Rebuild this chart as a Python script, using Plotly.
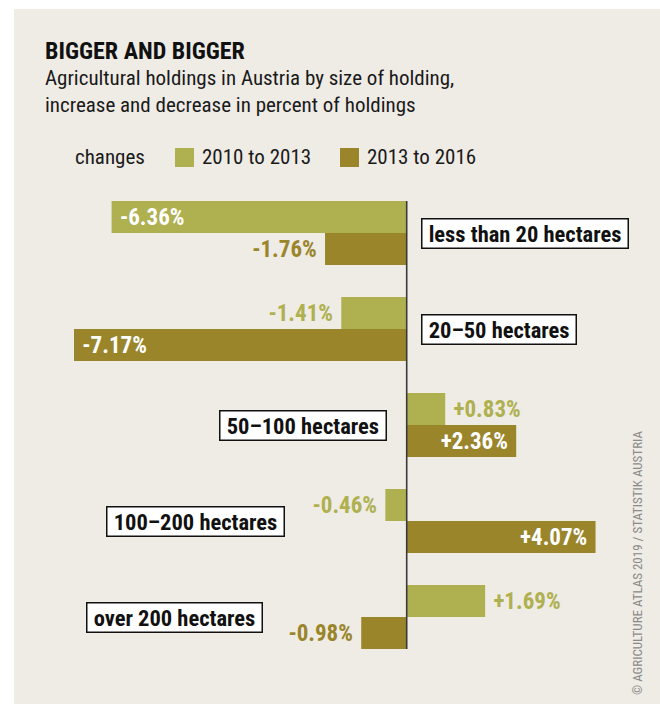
"""Bigger and bigger: change in Austrian agricultural holdings by size class."""

import plotly.graph_objects as go

# Data
SIZE_CLASSES = [
    "less than 20 hectares",
    "20–50 hectares",
    "50–100 hectares",
    "100–200 hectares",
    "over 200 hectares",
]
CHANGE_2010_2013 = [-6.36, -1.41, 0.83, -0.46, 1.69]
CHANGE_2013_2016 = [-1.76, -7.17, 2.36, 4.07, -0.98]
SERIES_NAMES = ["2010 to 2013", "2013 to 2016"]

# Styling
BG = "#efebe5"
LIGHT = "#afb050"
DARK = "#9a852b"
FONT = "Liberation Sans Narrow, Roboto Condensed, Arial Narrow, Liberation Sans, sans-serif"
NBSP = "\u00a0"

W, H = 660, 704
PLOT_L, PLOT_R, PLOT_T, PLOT_B = 60, 640, 185, 665


def px_x(px):
    return (px - PLOT_L) / (PLOT_R - PLOT_L)


def px_y(py):
    return (PLOT_B - py) / (PLOT_B - PLOT_T)


def labels(values, threshold=2.0):
    texts, positions = [], []
    for v in values:
        inside = abs(v) > threshold
        s = f"{v:+.2f}%"
        if v < 0:
            s = NBSP + s if inside else s + NBSP
        else:
            s = s + NBSP if inside else NBSP + s
        texts.append(s)
        positions.append("inside" if inside else "outside")
    return texts, positions


fig = go.Figure()
for name, vals, color in [
    (SERIES_NAMES[0], CHANGE_2010_2013, LIGHT),
    (SERIES_NAMES[1], CHANGE_2013_2016, DARK),
]:
    txt, pos = labels(vals)
    fig.add_trace(
        go.Bar(
            y=SIZE_CLASSES,
            x=vals,
            orientation="h",
            name=name,
            marker=dict(color=color, line=dict(width=0)),
            text=txt,
            textposition=pos,
            insidetextanchor="end",
            insidetextfont=dict(family=FONT, size=23, color="white", weight="bold"),
            outsidetextfont=dict(family=FONT, size=23, color=color, weight="bold"),
            constraintext="none",
            cliponaxis=False,
            hoverinfo="skip",
        )
    )

shapes = [
    # beige panel
    dict(type="rect", xref="paper", yref="paper", layer="below",
         x0=px_x(14), x1=px_x(662), y0=px_y(9), y1=px_y(706),
         fillcolor=BG, line=dict(width=0)),
    # zero line
    dict(type="line", xref="x", yref="y", x0=0, x1=0, y0=-1 / 3, y1=4 + 1 / 3,
         line=dict(color="#3a3a3a", width=1.6)),
    # legend swatches
    dict(type="rect", xref="paper", yref="paper",
         x0=px_x(175), x1=px_x(194), y0=px_y(167), y1=px_y(148),
         fillcolor=LIGHT, line=dict(width=0)),
    dict(type="rect", xref="paper", yref="paper",
         x0=px_x(340), x1=px_x(359), y0=px_y(167), y1=px_y(148),
         fillcolor=DARK, line=dict(width=0)),
]

annotations = [
    dict(text="<b>BIGGER AND BIGGER</b>", x=px_x(43), y=px_y(51),
         font=dict(family=FONT, size=24, color="#111")),
    dict(text="Agricultural holdings in Austria by size of holding,<br>"
              "increase and decrease in percent of holdings",
         x=px_x(43), y=px_y(91), font=dict(family=FONT, size=21, color="#1a1a1a")),
    dict(text="changes", x=px_x(73), y=px_y(157),
         font=dict(family=FONT, size=21, color="#1a1a1a")),
    dict(text=SERIES_NAMES[0], x=px_x(200), y=px_y(157),
         font=dict(family=FONT, size=21, color="#1a1a1a")),
    dict(text=SERIES_NAMES[1], x=px_x(365), y=px_y(157),
         font=dict(family=FONT, size=21, color="#1a1a1a")),
]
for a in annotations:
    a.update(xref="paper", yref="paper", xanchor="left", yanchor="middle",
             showarrow=False, align="left")

# category labels in white boxes, placed beside the bars
label_x = [0.3, 0.3, -0.42, -2.63, -3.09]
for i, cat in enumerate(SIZE_CLASSES):
    annotations.append(
        dict(text=f"{NBSP}<b>{cat}</b>{NBSP}", x=label_x[i], y=i, xref="x", yref="y",
             xanchor="left" if label_x[i] > 0 else "right", yanchor="middle",
             showarrow=False, bgcolor="white", bordercolor="#111",
             borderwidth=1.5, borderpad=1,
             font=dict(family=FONT, size=22.5, color="#111"))
    )

annotations.append(
    dict(text="© AGRICULTURE ATLAS 2019 / STATISTIK AUSTRIA", textangle=-90,
         x=px_x(637), y=px_y(563), xref="paper", yref="paper",
         xanchor="center", yanchor="middle", showarrow=False,
         font=dict(family=FONT, size=13, color="#8a8a8a"))
)

px_per_unit = 46.4
zero_px = 406.7
fig.update_layout(
    width=W,
    height=H,
    barmode="group",
    bargap=1 / 3,
    bargroupgap=0,
    showlegend=False,
    paper_bgcolor="white",
    plot_bgcolor="rgba(0,0,0,0)",
    margin=dict(l=PLOT_L, r=W - PLOT_R, t=PLOT_T, b=H - PLOT_B, pad=0),
    xaxis=dict(
        range=[-(zero_px - PLOT_L) / px_per_unit, (PLOT_R - zero_px) / px_per_unit],
        visible=False, fixedrange=True,
    ),
    yaxis=dict(range=[4.5, -0.5], visible=False, fixedrange=True),
    shapes=shapes,
    annotations=annotations,
    font=dict(family=FONT),
)

fig.write_html(
    "out.html",
    config={"displayModeBar": False},
    post_script="document.body.style.margin='0';",
)
